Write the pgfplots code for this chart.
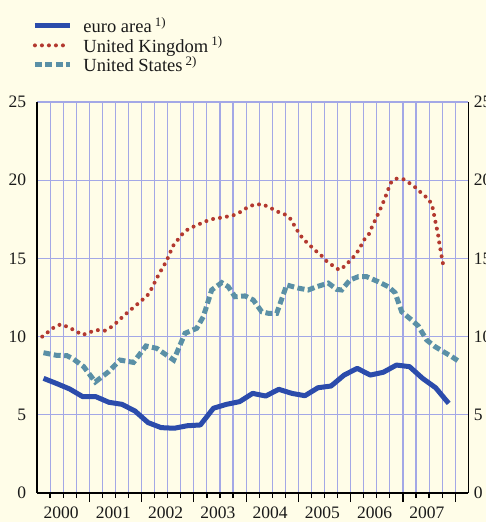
\documentclass[border=0pt]{standalone}
\usepackage{fontspec}
\setmainfont{Liberation Serif}
\usepackage{pgfplots}
\pgfplotsset{compat=1.18}
\definecolor{bgcol}{HTML}{FFFDE8}
\definecolor{gridcol}{HTML}{A3A8E6}
\definecolor{euroblue}{HTML}{2B4CAB}
\definecolor{ukred}{HTML}{B3392F}
\definecolor{usteal}{HTML}{5A90A6}
\definecolor{txt}{HTML}{1A1A1A}

\begin{document}
\begin{tikzpicture}
\fill[bgcol] (-37pt,-29pt) rectangle (449pt,493pt);
\begin{axis}[
  scale only axis, width=431.3pt, height=391pt,
  xmin=2000, xmax=2008.25, ymin=0, ymax=25,
  axis x line=bottom, axis y line=box,
  axis line style={-, black, line width=1.2pt},
  xtick={2000.46,2001.46,2002.46,2003.46,2004.46,2005.46,2006.46,2007.46},
  xticklabels={2000,2001,2002,2003,2004,2005,2006,2007},
  major x tick style={draw=none},
  minor xtick={2000.25,2000.5,2000.75,2001,2001.25,2001.5,2001.75,2002,
    2002.25,2002.5,2002.75,2003,2003.25,2003.5,2003.75,2004,
    2004.25,2004.5,2004.75,2005,2005.25,2005.5,2005.75,2006,
    2006.25,2006.5,2006.75,2007,2007.25,2007.5,2007.75,2008},
  extra x ticks={2001,2002,2003,2004,2005,2006,2007,2008},
  extra x tick labels={},
  extra x tick style={grid=none, major tick length=9pt, major x tick style={draw=black, line width=1.2pt}},
  minor tick length=5pt,
  minor x tick style={black, line width=1.2pt},
  tick align=outside,
  xminorgrids=true, xmajorgrids=false, ymajorgrids=true,
  grid style={gridcol, line width=1.1pt},
  minor grid style={gridcol, line width=1.1pt},
  ytick={0,5,10,15,20,25},
  ytick style={draw=none},
  ytick pos=left,
  /pgf/number format/assume math mode=true,
  tick label style={font=\fontsize{17.5}{20}\selectfont, text=txt},
  yticklabel style={xshift=-3pt},
  xticklabel style={yshift=-6pt},
  legend style={at={(axis description cs:-0.018,1.227)}, anchor=north west,
    draw=none, fill=none, font=\fontsize{18.5}{21}\selectfont, text=txt,
    row sep=-1.2pt, column sep=9pt},
  legend cell align=left,
  legend image code/.code={\draw[#1] (0pt,0pt) -- (35pt,0pt);},
]
\addplot[euroblue, line width=5pt, line join=round] coordinates {
(2000.125,7.33) (2000.375,7.00) (2000.625,6.65) (2000.875,6.16)
(2001.125,6.16) (2001.375,5.80) (2001.625,5.67) (2001.875,5.24)
(2002.125,4.50) (2002.375,4.18) (2002.625,4.14) (2002.875,4.30)
(2003.125,4.35) (2003.375,5.42) (2003.625,5.67) (2003.875,5.84)
(2004.125,6.37) (2004.375,6.20) (2004.625,6.63) (2004.875,6.37)
(2005.125,6.22) (2005.375,6.73) (2005.625,6.84) (2005.875,7.54)
(2006.125,7.97) (2006.375,7.54) (2006.625,7.72) (2006.875,8.18)
(2007.125,8.08) (2007.375,7.33) (2007.625,6.73) (2007.875,5.73)
};
\addlegendentry{euro area\,\textsuperscript{1)}}
\addplot[ukred, line width=4pt, line cap=round, dash pattern=on 0pt off 7pt] coordinates {
(2000.10,10.00) (2000.34,10.63) (2000.46,10.79) (2000.60,10.60) (2000.74,10.36)
(2000.87,10.10) (2001.00,10.27) (2001.14,10.42) (2001.30,10.38) (2001.43,10.63)
(2001.54,10.95) (2001.66,11.34) (2001.88,11.96) (2002.11,12.62) (2002.19,13.06)
(2002.33,13.98) (2002.48,14.85) (2002.60,15.79) (2002.70,16.22) (2002.79,16.60)
(2002.91,16.92) (2003.04,17.09) (2003.18,17.31) (2003.33,17.50) (2003.48,17.58)
(2003.63,17.67) (2003.77,17.77) (2003.91,18.00) (2004.04,18.30) (2004.17,18.45)
(2004.32,18.45) (2004.46,18.24) (2004.60,17.99) (2004.74,17.81) (2004.84,17.56)
(2004.92,17.12) (2005.00,16.67) (2005.09,16.24) (2005.20,15.90) (2005.31,15.54)
(2005.43,15.22) (2005.53,14.85) (2005.66,14.53) (2005.78,14.26) (2005.89,14.51)
(2006.00,14.90) (2006.10,15.26) (2006.18,15.69) (2006.25,16.16) (2006.35,16.56)
(2006.41,17.03) (2006.47,17.45) (2006.54,17.95) (2006.60,18.41) (2006.66,18.88)
(2006.71,19.35) (2006.77,19.84) (2006.86,20.10) (2007.01,20.06) (2007.14,19.78)
(2007.26,19.48) (2007.37,19.12) (2007.49,18.80) (2007.56,18.37) (2007.59,17.88)
(2007.62,17.37) (2007.65,16.88) (2007.68,16.37) (2007.70,15.86) (2007.73,15.36)
(2007.75,14.88) (2007.79,14.34)
};
\addlegendentry{United Kingdom\,\textsuperscript{1)}}
\addplot[usteal, line width=5pt, dash pattern=on 7pt off 3.5pt] coordinates {
(2000.124,8.97) (2000.375,8.80) (2000.574,8.78) (2000.702,8.55) (2000.893,8.08)
(2001.115,7.10) (2001.371,7.76) (2001.588,8.50) (2001.846,8.35) (2002.085,9.40)
(2002.290,9.25) (2002.615,8.50) (2002.831,10.21) (2003.055,10.53) (2003.181,11.27)
(2003.342,12.98) (2003.533,13.45) (2003.659,13.19) (2003.787,12.55) (2003.979,12.60)
(2004.137,12.34) (2004.298,11.59) (2004.424,11.49) (2004.585,11.49) (2004.776,13.30)
(2004.998,13.10) (2005.189,12.98) (2005.350,13.19) (2005.572,13.42) (2005.733,13.02)
(2005.828,12.98) (2005.987,13.62) (2006.146,13.83) (2006.306,13.83) (2006.528,13.51)
(2006.720,13.19) (2006.848,12.81) (2006.976,11.59) (2007.167,11.06) (2007.293,10.68)
(2007.454,9.78) (2007.613,9.36) (2007.772,9.04) (2007.932,8.72) (2008.078,8.40)
};
\addlegendentry{United States\,\textsuperscript{2)}}
\end{axis}
\begin{axis}[
  scale only axis, width=431.3pt, height=391pt,
  xmin=2000, xmax=2008.25, ymin=0, ymax=25,
  axis x line=none, axis y line*=right,
  y axis line style={draw=none},
  ytick={0,5,10,15,20,25},
  ytick style={draw=none},
  /pgf/number format/assume math mode=true,
  tick label style={font=\fontsize{17.5}{20}\selectfont, text=txt},
  yticklabel style={xshift=2pt},
]
\end{axis}
\pgfresetboundingbox
\path[use as bounding box] (-37pt,-29pt) rectangle (449pt,493pt);
\end{tikzpicture}
\end{document}
